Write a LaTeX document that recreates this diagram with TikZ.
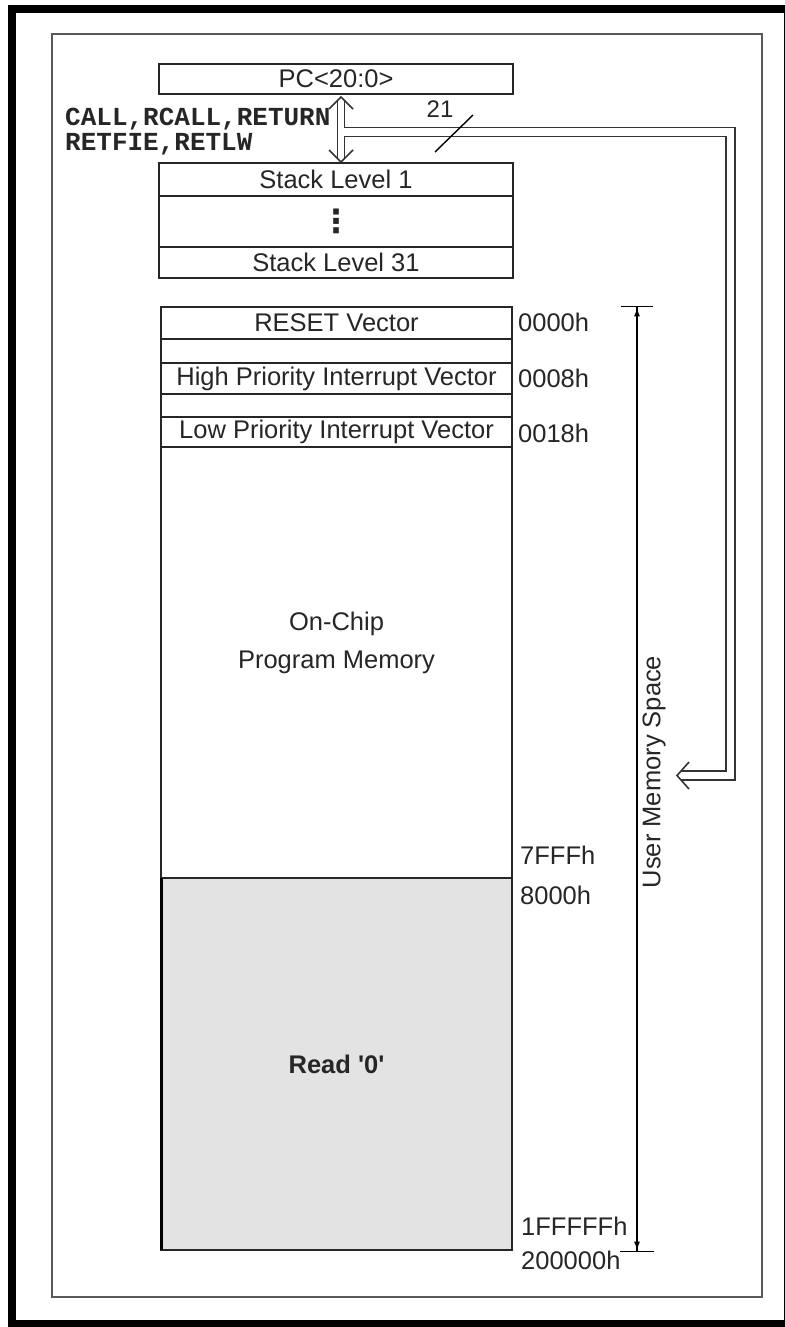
\documentclass[tikz,border=0pt]{standalone}
\usepackage{fontspec}
\setmainfont{Liberation Sans}
\setmonofont{Liberation Mono}
\newfontfamily\symbfont{DejaVu Sans}
\usepackage{tikz}
\usetikzlibrary{positioning,arrows.meta}
\newcommand{\memfont}{\fontsize{25.5}{28}\selectfont}
\tikzset{
  memrow/.style={draw=black!85, line width=1.6pt, fill=white, minimum width=354pt, inner sep=0pt, outer sep=0pt, align=center},
  memrow2/.style={memrow, minimum width=351pt},
  addr/.style={anchor=west, inner sep=0pt},
  busline/.style={draw=black!80, line width=1.6pt, double=white, double distance=7.4pt},
  chevron/.style={draw=black!80, line width=1.6pt, line join=miter},
  spanarrow/.style={line width=1.4pt, {Bar[width=32pt]Latex[length=9pt,width=6pt]}-{Latex[length=9pt,width=6pt]Bar[width=34pt]}},
  frameline/.style={draw=black!65, line width=2pt}
}

\begin{document}
\begin{tikzpicture}[x=1pt, y=-1pt, >=Latex, every node/.style={font=\memfont, text=black!85}]
  \useasboundingbox (0,0) rectangle (784,1327);
  % frames
  \draw[line width=8pt] (11.5,9) rectangle (788,1324);
  \draw[frameline] (52,34) rectangle (762,1297);

  % program counter and stack
  \node[memrow, minimum height=30pt] (pc) at (336,79) {PC<20:0>};
  \node[memrow, minimum height=33pt] (stk1) at (336,179.5) {Stack Level 1};
  \node[memrow, minimum height=51pt, font=\symbfont\bfseries\fontsize{32}{32}\selectfont] (stkdots) at (336,221.5) {⋮};
  \node[memrow, minimum height=31pt] (stk31) at (336,262.5) {Stack Level 31};
  \node[anchor=west, align=left, inner sep=0pt, font=\ttfamily\bfseries\fontsize{26}{25}\selectfont] (instr) at (65,132) {CALL,RCALL,RETURN\\RETFIE,RETLW};

  % push/pop arrow
  \coordinate (pctip) at (341,97);
  \coordinate (stktip) at (341,162);
  \draw[busline, line width=1.5pt, double distance=5.5pt] ([yshift=-3.6pt]pctip) -- ([yshift=3.6pt]stktip);
  \draw[chevron] ([shift={(-12,12)}]pctip) -- (pctip) -- ([shift={(12,12)}]pctip);
  \draw[chevron] ([shift={(-12,-12)}]stktip) -- (stktip) -- ([shift={(12,-12)}]stktip);

  % 21 bit bus to user memory
  \coordinate (busin) at (344,132);
  \coordinate (buscorner) at (730.5,450);
  \coordinate (busend) at (681,775.5);
  \coordinate (bustip) at (677,775.5);
  \draw[busline] (busin) -| (buscorner) |- (busend);
  \draw[chevron] ([shift={(12,-13.5)}]bustip) -- (bustip) -- ([shift={(12,13.5)}]bustip);
  \draw[line width=1.4pt] (435,152) -- (473,115);
  \node[font=\fontsize{24}{26}\selectfont] (buswidth) at (440,109) {21};

  % program memory map
  \node[memrow2, minimum height=32pt] (rstvec) at (336.5,323) {RESET Vector};
  \node[memrow2, minimum height=24pt] (gapa) at (336.5,351) {};
  \node[memrow2, minimum height=31pt] (hivec) at (336.5,378.5) {High Priority Interrupt Vector};
  \node[memrow2, minimum height=23pt] (gapb) at (336.5,405.5) {};
  \node[memrow2, minimum height=30pt] (lovec) at (336.5,432) {Low Priority Interrupt Vector};
  \node[memrow2, minimum height=431pt] (onchip) at (336.5,662.5) {};
  \node[align=center, font=\fontsize{25.5}{38}\selectfont] (onchiptxt) at (336.5,643) {On-Chip\\Program Memory};
  \node[memrow2, minimum height=372pt, fill=black!11, font=\memfont\bfseries] (readz) at (336.5,1064) {Read \textquotesingle0\textquotesingle};
  \draw[line width=3pt] (readz.north west) -- (readz.south west);

  % addresses
  \node[addr] (a0000) at (518,322) {0000h};
  \node[addr] (a0008) at (518,378) {0008h};
  \node[addr] (a0018) at (518,433) {0018h};
  \node[addr] (a7fff) at (520,855) {7FFFh};
  \node[addr] (a8000) at (520,895) {8000h};
  \node[addr] (a1fffff) at (521,1226) {1FFFFFh};
  \node[addr] (a200000) at (521,1260) {200000h};

  % user memory space
  \coordinate (usrtop) at (637,306);
  \coordinate (usrbot) at (637,1252);
  \draw[spanarrow] (usrtop) -- (usrbot);
  \node[rotate=90] (usrlbl) at (654,772) {User Memory Space};
\end{tikzpicture}
\end{document}
